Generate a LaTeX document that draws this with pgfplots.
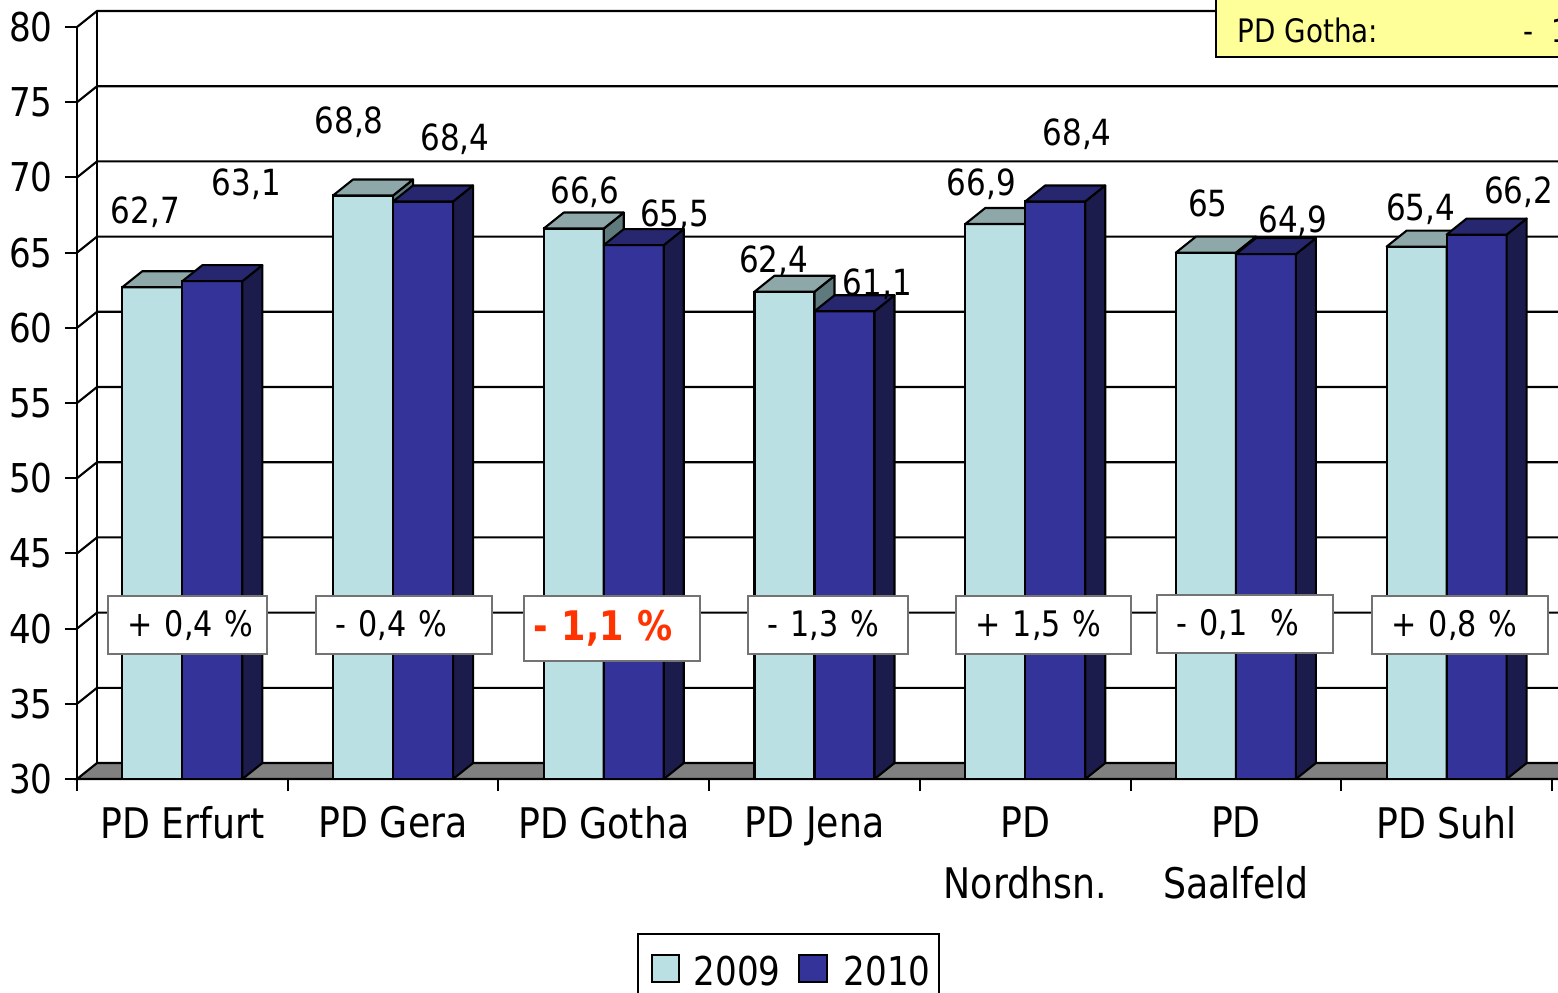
\documentclass[border=0pt]{standalone}
\usepackage{fontspec}
\setmainfont[FakeStretch=0.86]{DejaVu Sans}
\usepackage{pgfplots}
\usepackage{pgfplotstable}
\pgfplotsset{compat=1.18}

\definecolor{frontA}{HTML}{BAE0E3}
\definecolor{topA}{HTML}{8EA8AA}
\definecolor{sideA}{HTML}{5E7A7D}
\definecolor{frontB}{HTML}{333399}
\definecolor{topB}{HTML}{272770}
\definecolor{sideB}{HTML}{1C1C4C}
\definecolor{floorgray}{HTML}{808080}
\definecolor{notebg}{HTML}{FFFF99}
\definecolor{hot}{HTML}{FF3300}

% x = category, v = value, lx/ly = label offset in 0.01cm
\pgfplotstableread{
x v lx ly
0 62.7 -37 64
1 68.8 -44 62
2 66.6 -19 25
3 62.4 -41 19
4 66.9 -44 29
5 65.0 -28 36
6 65.4 -26 26
}\dataA
\pgfplotstableread{
x v lx ly
0 63.1 64 86
1 68.4 62 51
2 65.5 71 19
3 61.1 63 16
4 68.4 52 56
5 64.9 57 22
6 66.2 72 31
}\dataB

% top and side faces of the bars (one unit = 0.1504cm)
\pgfdeclareplotmark{cubeA}{%
  \pgfmathsetmacro\hb{0.16-(\vv-30)*0.1504}%
  \pgfmathsetmacro\hf{-(\vv-30)*0.1504}%
  \filldraw[fill=sideA,draw=black,line width=0.6pt,line join=round]
    (0cm,0cm) -- (0.2cm,0.16cm) -- (0.2cm,\hb cm) -- (0cm,\hf cm) -- cycle;
  \filldraw[fill=topA,draw=black,line width=0.6pt,line join=round]
    (-0.6cm,0cm) -- (-0.4cm,0.16cm) -- (0.2cm,0.16cm) -- (0cm,0cm) -- cycle;
}
\pgfdeclareplotmark{cubeB}{%
  \pgfmathsetmacro\hb{0.16-(\vv-30)*0.1504}%
  \pgfmathsetmacro\hf{-(\vv-30)*0.1504}%
  \filldraw[fill=sideB,draw=black,line width=0.6pt,line join=round]
    (0.6cm,0cm) -- (0.8cm,0.16cm) -- (0.8cm,\hb cm) -- (0.6cm,\hf cm) -- cycle;
  \filldraw[fill=topB,draw=black,line width=0.6pt,line join=round]
    (0cm,0cm) -- (0.2cm,0.16cm) -- (0.8cm,0.16cm) -- (0.6cm,0cm) -- cycle;
}

\pgfplotsset{
  faces/.style={scatter, only marks, point meta=\thisrow{v},
    visualization depends on={\thisrow{v}\as\vv},
    visualization depends on={\thisrow{lx}\as\lx},
    visualization depends on={\thisrow{ly}\as\ly},
    nodes near coords,
    every node near coord/.append style={anchor=base, inner sep=0pt, text=black,
      font=\fontsize{10.25}{12}\selectfont,
      xshift={\lx*0.01cm}, yshift={\ly*0.01cm}}},
}

\begin{document}
\begin{tikzpicture}
\useasboundingbox (-0.77,-2.13) rectangle (14.81,7.79);
\begin{pgfinterruptboundingbox}
\clip (-0.77,-2.13) rectangle (14.81,7.79);

% floor and back wall
\begin{scope}[line width=0.6pt]
\filldraw[fill=floorgray] (0,0) -- (0.2,0.16) -- (15,0.16) -- (15,0) -- cycle;
\foreach \k in {1,...,10}
  \draw (0,\k*0.752) -- (0.2,\k*0.752+0.16) -- (15,\k*0.752+0.16);
\draw (0.2,0.16) -- (0.2,7.68);
\end{scope}

\begin{axis}[
  at={(0,0)}, anchor=south west,
  scale only axis, width=14.75cm, height=7.52cm,
  xmin=-0.5, xmax=6.5, ymin=30, ymax=80,
  axis lines*=left,
  axis line style={black, line width=0.6pt},
  axis on top,
  ytick={30,35,...,80},
  xtick={-0.5,0.5,...,6.5}, xticklabels={},
  extra x ticks={0,...,6},
  extra x tick labels={PD Erfurt, PD Gera, PD Gotha, PD Jena, {PD\\Nordhsn.}, {PD\\Saalfeld}, PD Suhl},
  extra x tick style={major tick length=0pt},
  tick align=outside, major tick length=0.12cm,
  tick style={black, line width=0.6pt},
  yticklabel style={font=\fontsize{11.3}{13}\selectfont},
  xticklabel style={font=\fontsize{12}{17.5}\selectfont, align=center, yshift=-0.15cm},
  /pgf/number format/assume math mode=true,
  /pgf/number format/use comma,
  clip marker paths=true,
]
\addplot[ybar, bar width=0.6cm, bar shift=-0.3cm, fill=frontA, draw=black, line width=0.6pt]
  table[x=x, y=v] {\dataA};
\addplot[faces, mark=cubeA] table[x=x, y=v] {\dataA};
\addplot[ybar, bar width=0.6cm, bar shift=0.3cm, fill=frontB, draw=black, line width=0.6pt]
  table[x=x, y=v] {\dataB};
\addplot[faces, mark=cubeB] table[x=x, y=v] {\dataB};
\end{axis}

% change boxes
\begin{scope}[every node/.style={draw=black!55, fill=white, line width=0.45pt, anchor=west,
    minimum height=0.58cm, inner xsep=0.2cm, align=left,
    font=\fontsize{10}{11}\selectfont}]
\node[text width=1.33cm, inner xsep=0.13cm] at (0.30,1.54) {\hspace{0.07cm}+ 0,4 \%};
\node[text width=1.36cm] at (2.38,1.54) {- 0,4 \%};
\node[text width=1.56cm, inner xsep=0.10cm, minimum height=0.65cm, text=hot,
  font=\fontsize{11.6}{13}\selectfont\bfseries] at (4.46,1.505) {- 1,1 \%};
\node[text width=1.20cm] at (6.70,1.54) {- 1,3 \%};
\node[text width=1.35cm] at (8.78,1.54) {+ 1,5 \%};
\node[text width=1.36cm] at (10.79,1.55) {- 0,1\ \ \%};
\node[text width=1.36cm] at (12.94,1.54) {+ 0,8 \%};
\end{scope}

% note in the top right corner
\filldraw[fill=notebg, draw=black, line width=0.45pt] (11.39,7.22) rectangle (16,8.3);
\node[anchor=base west, inner sep=0pt, font=\fontsize{9.2}{11}\selectfont] at (11.60,7.37) {PD Gotha:};
\node[anchor=base west, inner sep=0pt, font=\fontsize{9.2}{11}\selectfont] at (14.46,7.37) {-\ \ 1,1 \%};

% legend
\draw[line width=0.6pt, fill=white] (5.61,-1.55) rectangle (8.62,-2.6);
\filldraw[fill=frontA, line width=0.6pt] (5.75,-1.76) rectangle (6.02,-2.03);
\filldraw[fill=frontB, line width=0.6pt] (7.22,-1.76) rectangle (7.50,-2.03);
\node[anchor=base west, inner sep=0pt, font=\fontsize{11.3}{13}\selectfont] at (6.16,-2.06) {2009};
\node[anchor=base west, inner sep=0pt, font=\fontsize{11.3}{13}\selectfont] at (7.66,-2.06) {2010};
\end{pgfinterruptboundingbox}
\end{tikzpicture}
\end{document}
